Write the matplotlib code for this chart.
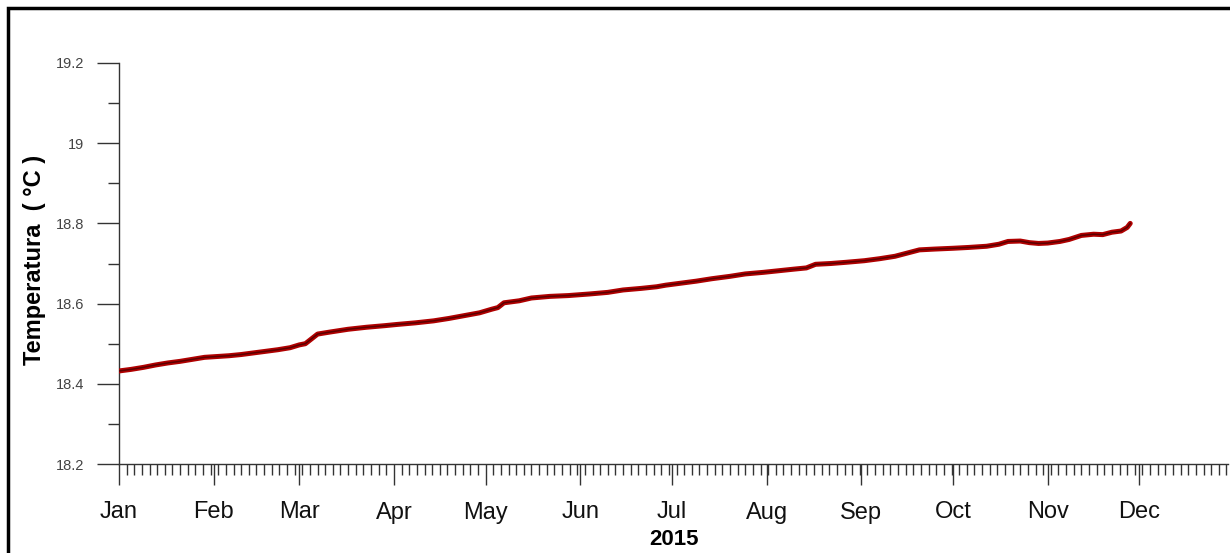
import numpy as np
import pandas as pd
import matplotlib
matplotlib.use('Agg')
import matplotlib.pyplot as plt
import matplotlib.dates as mdates
from matplotlib.patches import Rectangle

# values (daily means, degC)
dates = ['2015-01-01', '2015-01-05', '2015-01-09', '2015-01-13', '2015-01-17',
         '2015-01-21', '2015-01-25', '2015-01-29', '2015-02-02', '2015-02-06',
         '2015-02-10', '2015-02-14', '2015-02-18', '2015-02-22', '2015-02-26',
         '2015-03-01', '2015-03-03', '2015-03-05', '2015-03-07', '2015-03-11',
         '2015-03-17', '2015-03-23', '2015-03-29', '2015-04-02', '2015-04-08',
         '2015-04-14', '2015-04-19', '2015-04-24', '2015-04-29', '2015-05-03',
         '2015-05-05', '2015-05-07', '2015-05-12', '2015-05-16', '2015-05-22',
         '2015-05-28', '2015-06-04', '2015-06-10', '2015-06-15', '2015-06-21',
         '2015-06-26', '2015-06-29', '2015-07-03', '2015-07-09', '2015-07-14',
         '2015-07-20', '2015-07-25', '2015-07-31', '2015-08-05', '2015-08-10',
         '2015-08-14', '2015-08-17', '2015-08-22', '2015-08-27', '2015-09-02',
         '2015-09-07', '2015-09-12', '2015-09-16', '2015-09-20', '2015-09-25',
         '2015-10-01', '2015-10-06', '2015-10-12', '2015-10-16', '2015-10-19',
         '2015-10-23', '2015-10-26', '2015-10-29', '2015-11-01', '2015-11-05',
         '2015-11-08', '2015-11-12', '2015-11-16', '2015-11-19', '2015-11-22',
         '2015-11-25', '2015-11-27', '2015-11-28']
temps = [18.432, 18.436, 18.441, 18.447, 18.452,
         18.456, 18.461, 18.466, 18.468, 18.470,
         18.473, 18.477, 18.481, 18.485, 18.490,
         18.497, 18.500, 18.512, 18.524, 18.529,
         18.536, 18.541, 18.545, 18.548, 18.552,
         18.557, 18.563, 18.570, 18.577, 18.586,
         18.590, 18.602, 18.607, 18.614, 18.618,
         18.620, 18.624, 18.628, 18.634, 18.638,
         18.642, 18.646, 18.650, 18.656, 18.662,
         18.668, 18.674, 18.678, 18.682, 18.686,
         18.689, 18.698, 18.700, 18.703, 18.707,
         18.712, 18.718, 18.726, 18.734, 18.736,
         18.738, 18.740, 18.743, 18.748, 18.755,
         18.756, 18.752, 18.750, 18.751, 18.755,
         18.760, 18.770, 18.773, 18.772, 18.778,
         18.781, 18.790, 18.800]
months = ['Jan', 'Feb', 'Mar', 'Apr', 'May', 'Jun', 'Jul', 'Aug', 'Sep',
          'Oct', 'Nov', 'Dec']
yticks = [18.2, 18.4, 18.6, 18.8, 19, 19.2]
ytick_labels = ['18.2', '18.4', '18.6', '18.8', '19', '19.2']

x = pd.to_datetime(dates)
plt.rcParams['font.family'] = ['Liberation Sans', 'DejaVu Sans']

fig = plt.figure(figsize=(12.3, 5.53), dpi=100)
ax = fig.add_axes([119/1230, 89/553, (1228-119)/1230, 401/553])

ax.plot(x, temps, color='#b00000', lw=3.6, solid_capstyle='round', zorder=3)
ax.plot(x, temps, color='#5a0000', lw=1.1, zorder=4)

ax.set_ylim(18.2, 19.2)
ax.set_xlim(pd.Timestamp('2015-01-01'), pd.Timestamp('2015-12-30'))

ax.set_yticks(yticks)
ax.set_yticklabels(ytick_labels, fontsize=10.5, color='#444444')
ax.set_yticks(np.arange(18.3, 19.2, 0.2), minor=True)

mstart = pd.date_range('2015-01-01', periods=12, freq='MS')
ax.set_xticks(mstart)
ax.set_xticklabels(months, fontsize=17, color='#111111')
jan1 = mdates.date2num(pd.Timestamp('2015-01-01'))
ax.xaxis.set_minor_locator(matplotlib.ticker.FixedLocator(jan1 + np.arange(0, 364, 2.5)))

ax.tick_params(axis='y', which='major', direction='out', length=16, width=1,
               color='#333333', pad=9)
ax.tick_params(axis='y', which='minor', direction='out', length=8, width=1,
               color='#333333')
ax.tick_params(axis='x', which='major', direction='out', length=15, width=1,
               color='#333333', pad=12)
ax.tick_params(axis='x', which='minor', direction='out', length=8, width=1,
               color='#333333')

for s in ['top', 'right']:
    ax.spines[s].set_visible(False)
for s in ['left', 'bottom']:
    ax.spines[s].set_color('#333333')
    ax.spines[s].set_linewidth(1)

ax.set_ylabel('Temperatura  ( °C )', fontsize=17, fontweight='bold')
ax.yaxis.set_label_coords(-0.066, 0.51)
ax.set_xlabel('2015', fontsize=16, fontweight='bold')
ax.xaxis.set_label_coords(0.5, -0.163)
ax.xaxis.label.set_va('top')

# picture frame (top and left edges visible)
fig.patches.append(Rectangle((8/1230, -0.1), 1.2, 1.1 - 8/553, transform=fig.transFigure,
                             fill=False, ec='black', lw=2.5, zorder=10))

fig.savefig('out.png', dpi=100)
